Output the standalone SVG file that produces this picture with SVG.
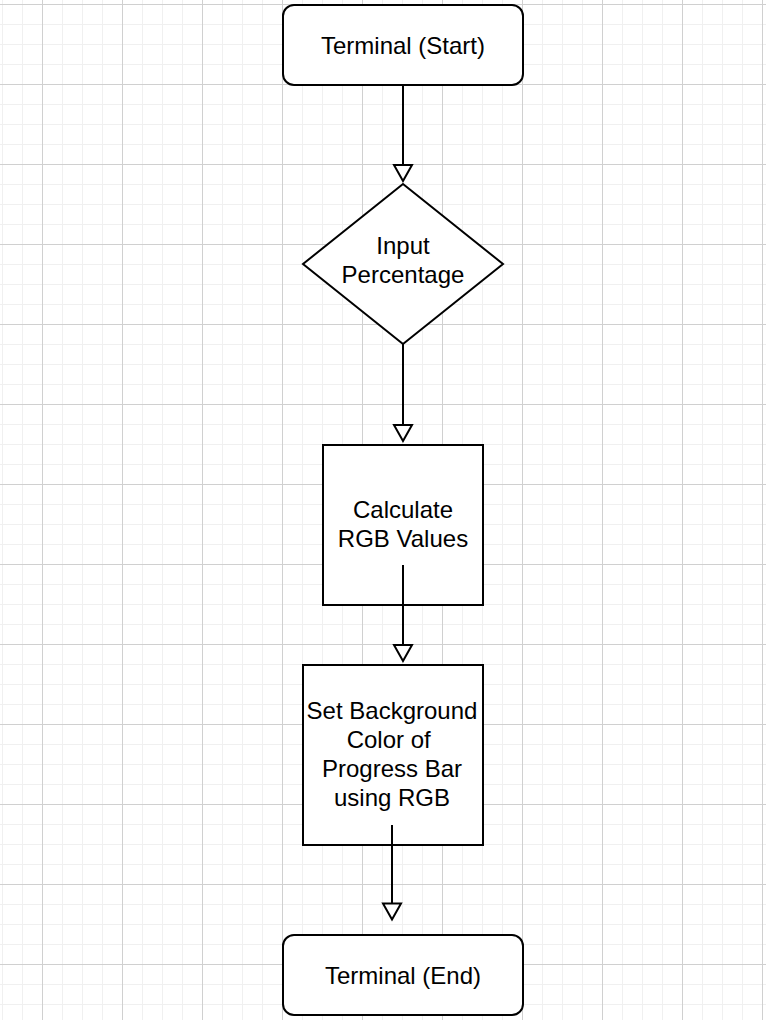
<svg xmlns="http://www.w3.org/2000/svg" width="766" height="1020" viewBox="0 0 766 1020">
  <defs>
    <style>
      .node { fill: #ffffff; stroke: #000000; stroke-width: 2; }
      .label { font-family: "Liberation Sans", Helvetica, Arial, sans-serif; font-size: 24px; fill: #000000; text-anchor: middle; }
      .edge { fill: none; stroke: #000000; stroke-width: 2; }
    </style>
    <pattern id="gridMinor" patternUnits="userSpaceOnUse" x="2" y="4" width="20" height="20">
      <path d="M 0.5 0 V 20 M 0 0.5 H 20" fill="none" stroke="#f0f0f0" stroke-width="1"/>
    </pattern>
    <pattern id="gridMajor" patternUnits="userSpaceOnUse" x="2" y="4" width="80" height="80">
      <path d="M 40.5 0 V 80 M 0 0.5 H 80" fill="none" stroke="#d0d0d0" stroke-width="1"/>
    </pattern>
    <marker id="openArrow" markerUnits="userSpaceOnUse" viewBox="-20 -12 24 24" markerWidth="24" markerHeight="24" refX="0" refY="0" orient="auto">
      <path d="M 0 0 L -16 -9 L -16 9 Z" fill="#ffffff" stroke="#000000" stroke-width="2" stroke-linejoin="miter"/>
    </marker>
  </defs>

  <g id="background">
    <rect x="0" y="0" width="766" height="1020" fill="#ffffff"/>
    <rect x="0" y="0" width="766" height="1020" fill="url(#gridMinor)"/>
    <rect x="0" y="0" width="766" height="1020" fill="url(#gridMajor)"/>
  </g>

  <g id="terminal-start">
    <rect class="node" x="283" y="5" width="240" height="80" rx="11" ry="11"/>
    <text class="label" x="403" y="53.5">Terminal (Start)</text>
  </g>

  <g id="input-percentage">
    <polygon class="node" points="403,184 503,264 403,344 303,264"/>
    <text class="label" x="403" y="253.5">Input</text>
    <text class="label" x="403" y="282.5">Percentage</text>
  </g>

  <g id="calculate-rgb">
    <rect class="node" x="323" y="445" width="160" height="160"/>
    <text class="label" x="403" y="518">Calculate</text>
    <text class="label" x="403" y="547">RGB Values</text>
  </g>

  <g id="set-background">
    <rect class="node" x="303" y="665" width="180" height="180"/>
    <text class="label" x="392" y="719">Set Background</text>
    <text class="label" x="388.7" y="748">Color of</text>
    <text class="label" x="392" y="777">Progress Bar</text>
    <text class="label" x="392" y="805.5">using RGB</text>
  </g>

  <g id="terminal-end">
    <rect class="node" x="283" y="935" width="240" height="80" rx="11" ry="11"/>
    <text class="label" x="403" y="983.5">Terminal (End)</text>
  </g>

  <g id="connectors">
    <path class="edge" d="M 403 85 V 181" marker-end="url(#openArrow)"/>
    <path class="edge" d="M 403 344 V 441" marker-end="url(#openArrow)"/>
    <path class="edge" d="M 403 565 V 661" marker-end="url(#openArrow)"/>
    <path class="edge" d="M 392 825 V 919.5" marker-end="url(#openArrow)"/>
  </g>
</svg>
